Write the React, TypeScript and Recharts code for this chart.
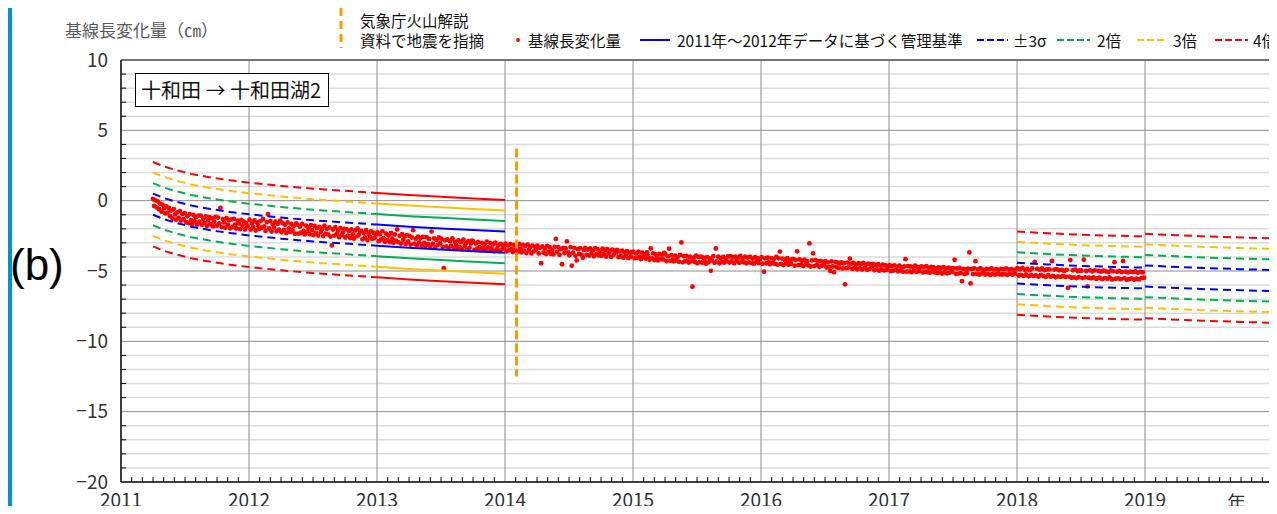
import React from 'react';
import { ComposedChart, Line, Scatter, XAxis, YAxis, CartesianGrid, ReferenceLine } from 'recharts';

// axis ticks
const yearTicks = [2011, 2012, 2013, 2014, 2015, 2016, 2017, 2018, 2019];
const yTicks = [-20, -15, -10, -5, 0, 5, 10];
const yMajorGrid = [-15, -10, -5, 0, 5];
const yMinorGrid = [-19, -18, -17, -16, -14, -13, -12, -11, -9, -8, -7, -6, -4, -3, -2, -1, 1, 2, 3, 4, 6, 7, 8, 9];

// baseline length change (cm), readings every 3.5 days
const obs2011 = [
  0.12, -0.38, 0.02, -0.47, -0.05, -0.61, -0.22, -0.78, -0.30, -0.55, -0.91, -0.40, -0.86,
  -0.52, -1.10, -0.70, -1.28, -0.60, -0.98, -1.35, -0.83, -1.22, -0.74, -1.42, -0.95, -1.31,
  -0.88, -1.52, -1.10, -1.60, -0.95, -1.38, -1.65, -1.02, -1.45, -1.18, -1.70, -1.06, -1.49,
  -1.07, -1.72, -1.30, -1.58, -1.12, -1.80, -1.41, -1.18, -1.67, -1.25, -1.83, -1.50, -1.15,
  -1.78, -1.20, -1.62, -0.52, -1.88, -1.31, -1.55, -1.92, -1.24, -1.70, -1.40, -1.96, -1.33,
  -1.85, -1.30, -1.71, -1.98, -1.42, -1.62, -2.02, -1.36, -1.77, -1.49, -2.05, -1.58, -1.82,
];
const obs2012 = [
  -1.35, -2.05, -1.62, -1.88, -1.40, -2.12, -1.55, -1.78, -2.00, -1.45, -1.92, -1.30, -1.83,
  -2.15, -1.52, -0.95, -1.98, -1.45, -2.20, -1.70, -1.90, -1.50, -2.18, -1.64, -2.06, -1.42,
  -2.25, -1.60, -2.08, -1.72, -2.30, -1.55, -1.98, -2.22, -1.66, -2.12, -1.80, -2.35, -1.62,
  -1.70, -2.35, -1.85, -2.28, -1.65, -2.15, -2.40, -1.78, -2.20, -1.92, -2.38, -1.74, -2.10,
  -2.45, -1.80, -2.30, -1.95, -2.48, -1.86, -2.22, -2.02, -2.52, -1.78, -2.35, -2.00, -2.40,
  -1.90, -2.55, -3.18, -2.05, -2.48, -1.88, -2.38, -2.12, -2.60, -1.95, -2.45, -2.26, -2.00,
  -2.62, -2.02, -2.48, -2.15, -2.66, -2.05, -2.40, -2.70, -2.12, -2.55, -1.98, -2.44, -2.20,
  -2.15, -2.75, -2.30, -2.62, -2.10, -2.80, -2.36, -2.55, -2.18, -2.72, -2.28, -2.64, -2.40,
];
const obs2013 = [
  -2.25, -2.88, -2.40, -2.75, -2.18, -2.66, -2.92, -2.35, -2.80, -2.48, -2.95, -2.30, -2.70,
  -3.00, -2.40, -2.85, -2.05, -2.95, -2.50, -3.05, -2.38, -2.78, -2.55, -3.08, -2.45, -2.90,
  -2.50, -3.12, -2.62, -2.10, -3.05, -2.70, -3.18, -2.55, -2.96, -2.66, -3.20, -2.58, -3.00,
  -3.22, -2.60, -3.10, -2.72, -3.28, -2.20, -3.05, -2.68, -3.30, -2.78, -3.15, -2.62, -3.02,
  -2.70, -3.30, -4.80, -2.82, -3.25, -2.75, -3.38, -2.88, -3.20, -2.68, -3.35, -2.92, -3.15,
  -3.40, -2.82, -3.28, -2.95, -3.45, -2.78, -3.22, -3.02, -3.48, -2.88, -3.35, -3.05, -2.85,
  -2.90, -3.50, -3.05, -3.42, -2.95, -3.30, -3.55, -3.00, -3.38, -3.10, -3.52, -2.92, -3.32,
  -3.55, -3.02, -3.40, -3.10, -3.60, -2.98, -3.45, -3.20, -3.58, -3.08, -3.48, -3.15, -3.38,
];
const obs2014 = [
  -3.05, -3.60, -3.18, -3.52, -3.10, -3.45, -3.65, -3.15, -3.50, -3.25, -3.62, -3.08, -3.42,
  -3.68, -3.15, -3.55, -3.22, -3.72, -3.12, -3.50, -3.30, -3.75, -3.20, -3.60, -3.28, -3.48,
  -3.20, -3.75, -3.35, -4.45, -3.25, -3.70, -3.40, -3.80, -3.22, -3.62, -3.30, -3.78, -3.52,
  -3.82, -3.28, -2.72, -3.65, -3.30, -3.85, -3.45, -4.52, -3.35, -3.72, -3.40, -2.90, -3.68,
  -3.88, -3.30, -4.62, -3.70, -3.35, -3.92, -4.25, -3.45, -3.78, -3.38, -3.85, -4.05, -3.50,
  -3.35, -3.85, -3.48, -3.90, -3.40, -3.75, -3.55, -3.95, -3.38, -3.80, -3.45, -3.88, -3.62,
  -3.92, -3.42, -3.80, -3.50, -3.98, -3.45, -3.75, -3.58, -4.00, -3.48, -3.85, -3.55, -3.70,
  -3.50, -4.02, -3.62, -3.95, -3.55, -4.05, -3.68, -3.90, -3.58, -4.08, -3.72, -3.98, -3.65,
];
const obs2015 = [
  -3.65, -4.10, -3.75, -4.05, -3.62, -3.98, -4.15, -3.70, -4.02, -3.80, -4.12, -3.68, -3.95,
  -4.20, -3.40, -4.10, -3.75, -4.22, -3.82, -4.05, -4.25, -3.78, -4.15, -3.85, -4.18, -3.72,
  -3.82, -4.30, -3.95, -3.42, -4.28, -3.88, -4.20, -4.32, -3.90, -4.22, -4.00, -4.35, -3.85,
  -2.97, -4.38, -3.95, -4.30, -3.92, -4.25, -4.40, -3.98, -4.32, -6.12, -4.05, -4.36, -3.90,
  -4.45, -4.00, -4.35, -3.98, -4.42, -4.05, -4.30, -4.48, -4.02, -4.38, -4.10, -4.99, -4.25,
  -3.95, -4.42, -3.40, -4.32, -3.98, -4.45, -4.08, -4.36, -4.00, -4.40, -4.12, -4.30, -3.96,
  -4.40, -3.95, -4.32, -4.02, -4.45, -3.98, -4.28, -4.05, -4.42, -3.92, -4.35, -4.10, -4.38,
  -3.98, -4.45, -4.05, -4.38, -4.00, -4.42, -4.12, -4.48, -4.02, -4.35, -4.08, -4.44, -4.15,
];
const obs2016 = [
  -4.02, -4.48, -5.05, -4.10, -4.45, -4.05, -4.38, -4.52, -4.08, -4.42, -4.15, -4.50, -4.00,
  -4.55, -4.10, -3.62, -4.50, -4.12, -4.58, -4.20, -4.45, -4.08, -4.55, -4.25, -4.48, -4.15,
  -4.15, -4.62, -4.22, -3.60, -4.58, -4.18, -4.55, -4.28, -4.65, -4.20, -4.52, -4.30, -4.60,
  -3.04, -4.68, -4.25, -3.75, -4.65, -4.22, -4.58, -4.32, -4.70, -4.28, -4.62, -4.35, -4.55,
  -4.30, -4.75, -4.38, -4.70, -5.00, -4.32, -4.68, -5.08, -4.35, -4.72, -4.40, -4.78, -4.45,
  -4.38, -4.82, -4.45, -5.95, -4.80, -4.40, -4.75, -4.12, -4.48, -4.85, -4.42, -4.78, -4.55,
  -4.88, -4.45, -4.80, -4.50, -4.90, -4.42, -4.78, -4.55, -4.92, -4.48, -4.85, -4.52, -4.70,
  -4.50, -4.95, -4.58, -4.88, -4.52, -4.98, -4.62, -4.90, -4.55, -4.96, -4.60, -4.92, -4.68,
];
const obs2017 = [
  -4.58, -5.00, -4.65, -4.98, -4.60, -4.92, -4.70, -5.02, -4.62, -4.95, -4.72, -5.05, -4.68,
  -4.16, -5.05, -4.65, -5.02, -4.68, -5.08, -4.70, -4.98, -4.62, -5.06, -4.75, -5.00, -4.72,
  -4.68, -5.10, -4.72, -5.05, -4.66, -5.08, -4.78, -5.12, -4.70, -5.02, -4.75, -5.10, -4.82,
  -5.15, -4.75, -5.10, -4.78, -5.18, -4.72, -5.08, -4.82, -5.16, -4.76, -5.12, -4.80, -5.05,
  -4.80, -4.20, -5.20, -4.82, -5.18, -4.78, -5.15, -5.72, -4.85, -5.22, -4.88, -5.16, -4.84,
  -3.68, -5.88, -4.85, -5.22, -4.82, -4.30, -5.20, -4.88, -5.25, -4.80, -5.18, -4.90, -5.15,
  -5.25, -4.85, -5.20, -4.88, -5.28, -4.82, -5.22, -4.90, -5.26, -4.86, -5.18, -4.92, -5.24,
  -4.85, -5.25, -4.88, -5.22, -4.82, -5.28, -4.90, -5.20, -4.86, -5.26, -4.92, -5.18, -4.88,
];
const obs2018 = [
  -4.80, -5.32, -4.88, -5.28, -4.78, -5.35, -4.92, -5.25, -4.85, -5.38, -4.95, -5.30, -4.82,
  -5.35, -4.35, -5.32, -4.85, -5.40, -4.90, -5.28, -4.82, -5.36, -4.95, -5.42, -4.88, -5.30,
  -4.88, -5.40, -4.29, -5.35, -4.90, -5.45, -4.86, -5.38, -4.95, -5.42, -4.92, -5.36, -5.00,
  -5.42, -4.92, -6.20, -5.40, -4.22, -5.48, -4.95, -5.45, -4.90, -5.50, -5.00, -5.44, -4.96,
  -4.98, -5.50, -4.20, -5.45, -5.00, -6.10, -5.48, -4.96, -5.52, -5.02, -5.46, -4.95, -5.55,
  -5.52, -5.00, -5.48, -5.05, -5.58, -4.98, -5.50, -5.02, -5.55, -5.08, -5.46, -4.96, -5.60,
  -5.02, -4.37, -5.55, -5.05, -5.52, -5.00, -5.58, -5.08, -4.29, -5.50, -5.04, -5.62, -5.10,
  -5.58, -5.05, -5.52, -5.08, -5.62, -5.02, -5.55, -5.12, -5.60, -5.06, -5.50, -5.10, -5.48,
];
const obsYears = [2011, 2012, 2013, 2014, 2015, 2016, 2017, 2018];
const obsStartDay = [91, 1.5, 1.5, 1.5, 1.5, 1.5, 1.5, 1.5];
const obsSeries = [obs2011, obs2012, obs2013, obs2014, obs2015, obs2016, obs2017, obs2018];

// management criteria: fitted centre line and 3σ half width per period
const critADates = [2011.25, 2011.33, 2011.42, 2011.55, 2011.7, 2011.85, 2012.0, 2012.25, 2012.5, 2012.75, 2013.0, 2013.25, 2013.5, 2013.75, 2014.0];
const critACenter = [-0.25, -0.55, -0.8, -1.1, -1.35, -1.55, -1.72, -1.95, -2.15, -2.3, -2.45, -2.6, -2.72, -2.84, -2.95];
const critASplit = 2013.0; // dashed until here, solid afterwards
const critBDates = [2018.0, 2018.25, 2018.5, 2018.75, 2019.0];
const critBCenter = [-5.15, -5.28, -5.38, -5.45, -5.5];
const critCDates = [2019.0, 2019.25, 2019.5, 2019.75, 2020.0];
const critCCenter = [-5.36, -5.46, -5.55, -5.62, -5.68];
const threeSigmaA = 0.75;
const threeSigmaB = 0.74;
const threeSigmaC = 0.75;
const levelMult = [1, 2, 3, 4];
const levelNames = ['±3σ', '2倍', '3倍', '4倍'];

// event marker (JMA volcano commentary)
const eventYear = 2014.09;
const eventRange = [3.7, -12.5];

const levelColors = ['#0000FF', '#00B050', '#FFC000', '#FF0000'];
const FONT = '"Noto Sans CJK JP", "Noto Sans", sans-serif';

const points = obsYears.flatMap((yr, k) =>
  obsSeries[k].map((v, i) => ({ x: yr + (obsStartDay[k] + i * 3.5) / 365, y: v }))
);

type Series = { key: string; data: { x: number; y: number }[]; color: string; dashed: boolean };
const series: Series[] = [];
const addBand = (tag: string, dates: number[], center: number[], s3: number, dashed: boolean) => {
  levelMult.forEach((m, li) => {
    [1, -1].forEach((sign) => {
      series.push({
        key: `${tag}-${li}-${sign}`,
        data: dates.map((x, i) => ({ x, y: center[i] + sign * m * s3 })),
        color: levelColors[li],
        dashed,
      });
    });
  });
};
const idxA1 = critADates.map((d, i) => (d <= critASplit ? i : -1)).filter((i) => i >= 0);
const idxA2 = critADates.map((d, i) => (d >= critASplit ? i : -1)).filter((i) => i >= 0);
addBand('a1', idxA1.map((i) => critADates[i]), idxA1.map((i) => critACenter[i]), threeSigmaA, true);
addBand('a2', idxA2.map((i) => critADates[i]), idxA2.map((i) => critACenter[i]), threeSigmaA, false);
addBand('b', critBDates, critBCenter, threeSigmaB, true);
addBand('c', critCDates, critCCenter, threeSigmaC, true);

// minor tick marks (monthly on x, every 1 cm on y)
const xMinor: number[] = [];
for (let m = 1; m < 108; m++) if (m % 12 !== 0) xMinor.push(2011 + m / 12);

const fmtY = (v: number) => (v < 0 ? `−${-v}` : `${v}`);

const Dot = (props: any) => <circle cx={props.cx} cy={props.cy} r={2.4} fill="#FF0000" />;

function Legend() {
  const txt: React.CSSProperties = { position: 'absolute', top: 30, lineHeight: '20px', fontSize: 15.5, color: '#111', whiteSpace: 'nowrap' };
  const dash = (left: number, width: number, color: string, dashed: boolean) => (
    <svg style={{ position: 'absolute', left, top: 36 }} width={width} height={8}>
      <line x1={0} y1={4} x2={width} y2={4} stroke={color} strokeWidth={2} strokeDasharray={dashed ? '7 3' : undefined} />
    </svg>
  );
  const swatch = [
    { left: 977, width: 31, text: 1013 },
    { left: 1057, width: 33, text: 1097 },
    { left: 1137, width: 29, text: 1173 },
    { left: 1215, width: 33, text: 1253 },
  ];
  return (
    <>
      <svg style={{ position: 'absolute', left: 337, top: 8 }} width={8} height={40}>
        <line x1={4} y1={0} x2={4} y2={40} stroke="#FF9900" strokeWidth={3} strokeDasharray="8 5" />
      </svg>
      <span style={{ ...txt, top: 10, left: 360 }}>気象庁火山解説</span>
      <span style={{ ...txt, left: 360 }}>資料で地震を指摘</span>
      <svg style={{ position: 'absolute', left: 514, top: 36 }} width={8} height={8}>
        <circle cx={4} cy={4} r={2} fill="#FF0000" />
      </svg>
      <span style={{ ...txt, left: 528 }}>基線長変化量</span>
      {dash(640, 30, '#0000FF', false)}
      <span style={{ ...txt, left: 677 }}>2011年～2012年データに基づく管理基準</span>
      {swatch.map((s, i) => (
        <React.Fragment key={i}>
          {dash(s.left, s.width, levelColors[i], true)}
          <span style={{ ...txt, left: s.text }}>{levelNames[i]}</span>
        </React.Fragment>
      ))}
    </>
  );
}

export default function App() {
  return (
    <div style={{ position: 'relative', width: 1277, height: 514, margin: -8, overflow: 'hidden', background: '#fff', fontFamily: FONT }}>
      <div style={{ position: 'absolute', left: 0, top: 0, width: 12, height: 514, background: '#0095C6' }} />
      <div style={{ position: 'absolute', left: 10, top: 240, fontFamily: '"Liberation Sans", Arial, sans-serif', fontSize: 44, lineHeight: '50px', color: '#000' }}>(b)</div>
      <div style={{ position: 'absolute', left: 65, top: 19, fontSize: 17, lineHeight: '22px', color: '#595959' }}>基線長変化量（㎝）</div>
      <Legend />
      <ComposedChart width={1277} height={514} margin={{ top: 60, right: 4, bottom: 0, left: 0 }}>
        <CartesianGrid horizontalValues={yMinorGrid} vertical={false} stroke="#DCDCDC" strokeWidth={1.5} />
        <CartesianGrid horizontalValues={yMajorGrid} verticalValues={yearTicks.slice(1)} stroke="#8C8C8C" strokeWidth={1} />
        <XAxis
          type="number"
          dataKey="x"
          domain={[2011, 2020]}
          ticks={yearTicks}
          interval={0}
          allowDataOverflow
          tickSize={0}
          tickMargin={12}
          height={32}
          tick={{ fontSize: 19, fill: '#333', fontFamily: FONT }}
          axisLine={{ stroke: '#000', strokeWidth: 1.5 }}
        />
        <YAxis
          type="number"
          domain={[-20, 10]}
          ticks={yTicks}
          interval={0}
          allowDataOverflow
          width={121}
          tickSize={0}
          tickMargin={13}
          tickFormatter={fmtY}
          tick={{ fontSize: 19, fill: '#333', fontFamily: FONT }}
          axisLine={{ stroke: '#000', strokeWidth: 1.5 }}
        />
        <ReferenceLine y={10} stroke="#444" strokeWidth={1.5} />
        <ReferenceLine x={2020} stroke="#444" strokeWidth={1.5} />
        {xMinor.map((m) => (
          <ReferenceLine key={`xm${m}`} segment={[{ x: m, y: -20 }, { x: m, y: -19.65 }]} stroke="#000" strokeWidth={1} />
        ))}
        {yMinorGrid.map((v) => (
          <ReferenceLine key={`ym${v}`} segment={[{ x: 2011, y: v }, { x: 2011.04, y: v }]} stroke="#000" strokeWidth={1} />
        ))}
        <Scatter data={points} dataKey="y" shape={Dot} isAnimationActive={false} />
        {series.map((s) => (
          <Line
            key={s.key}
            data={s.data}
            dataKey="y"
            type="linear"
            stroke={s.color}
            strokeWidth={2}
            strokeDasharray={s.dashed ? '8 5' : undefined}
            dot={false}
            activeDot={false}
            isAnimationActive={false}
            zIndex={700}
          />
        ))}
        <ReferenceLine
          segment={[{ x: eventYear, y: eventRange[0] }, { x: eventYear, y: eventRange[1] }]}
          stroke="#FF9900"
          strokeWidth={3}
          strokeDasharray="9 4"
          zIndex={800}
        />
      </ComposedChart>
      <div style={{ position: 'absolute', left: 135, top: 73, width: 194, height: 34, border: '1px solid #000', background: '#fff', fontSize: 20, lineHeight: '32px', paddingLeft: 5, boxSizing: 'border-box', whiteSpace: 'nowrap', color: '#111' }}>
        十和田 → 十和田湖2
      </div>
      <div style={{ position: 'absolute', left: 1227, top: 490, fontSize: 19, lineHeight: '24px', color: '#333' }}>年</div>
    </div>
  );
}
